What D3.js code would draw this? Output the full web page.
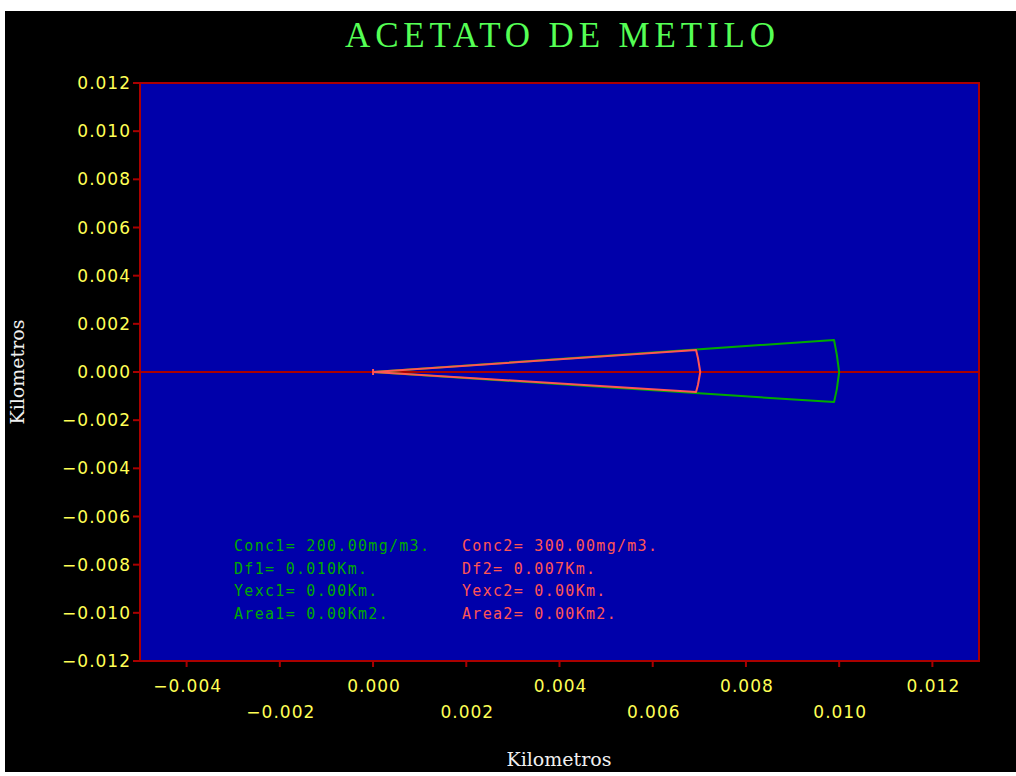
<!DOCTYPE html>
<html><head><meta charset="utf-8">
<script src="https://cdn.jsdelivr.net/npm/d3@7"></script>
<style>html,body{margin:0;padding:0;background:#fff;}svg{display:block;}</style>
</head><body>
<script>
// ---- data ----
const title = "ACETATO DE METILO";
const xLabel = "Kilometros";
const yLabel = "Kilometros";
const xTicks = [-0.004, -0.002, 0.000, 0.002, 0.004, 0.006, 0.008, 0.010, 0.012];
const yTicks = [0.012, 0.010, 0.008, 0.006, 0.004, 0.002, 0.000, -0.002, -0.004, -0.006, -0.008, -0.010, -0.012];
// plume outline 1 (Conc1, green): [x, y] in km
const plume1 = [[0, 0], [0.00989, 0.00133], [0.00995, 0.00071], [0.01000, 0.0], [0.00995, -0.00071], [0.00989, -0.00125], [0, 0]];
// plume outline 2 (Conc2, red)
const plume2 = [[0, 0], [0.00693, 0.00091], [0.00697, 0.00058], [0.00702, 0.0], [0.00697, -0.00054], [0.00693, -0.00083], [0, 0]];
const legend1 = ["Conc1= 200.00mg/m3.", "Df1= 0.010Km.", "Yexc1= 0.00Km.", "Area1= 0.00Km2."];
const legend2 = ["Conc2= 300.00mg/m3.", "Df2= 0.007Km.", "Yexc2= 0.00Km.", "Area2= 0.00Km2."];

// ---- drawing ----
const W = 1016, H = 776;
const plot = {left: 140, right: 979, top: 83, bottom: 661};
const svg = d3.select("body").append("svg").attr("width", W).attr("height", H);
svg.append("rect").attr("x", 0).attr("y", 0).attr("width", W).attr("height", H).attr("fill", "#ffffff");
svg.append("rect").attr("x", 5).attr("y", 11).attr("width", W - 5).attr("height", 761).attr("fill", "#000000");

const x = d3.scaleLinear().domain([-0.005, 0.013]).range([plot.left, plot.right]);
const y = d3.scaleLinear().domain([-0.012, 0.012]).range([plot.bottom, plot.top]);

const RED = "#aa0000", BLUE = "#0000aa", YEL = "#ffff55", GRN = "#00aa00", LRED = "#ff5555", LGRN = "#55ff55";

// plot background
svg.append("rect").attr("x", plot.left).attr("y", plot.top)
  .attr("width", plot.right - plot.left).attr("height", plot.bottom - plot.top)
  .attr("fill", BLUE);

// title
svg.append("text").attr("x", 345).attr("y", 47)
  .attr("textLength", 430).attr("lengthAdjust", "spacing")
  .attr("font-family", "Liberation Serif, DejaVu Serif, serif").attr("font-size", 35)
  .attr("fill", LGRN).text(title);

const fmt = d => d3.format(".3f")(d).replace("-", "\u2212");

// y ticks
const yg = svg.append("g");
yg.selectAll("line").data(yTicks).enter().append("line")
  .attr("x1", plot.left - 7).attr("x2", plot.left)
  .attr("y1", d => y(d)).attr("y2", d => y(d))
  .attr("stroke", RED).attr("stroke-width", 2);
yg.selectAll("text").data(yTicks).enter().append("text")
  .attr("x", 131).attr("y", d => y(d) + 6)
  .attr("text-anchor", "end")
  .attr("font-family", "DejaVu Sans, sans-serif").attr("font-size", 17)
  .attr("letter-spacing", 1)
  .attr("fill", YEL)
  .text(fmt);

// x ticks
const xg = svg.append("g");
xg.selectAll("line").data(xTicks).enter().append("line")
  .attr("x1", d => x(d)).attr("x2", d => x(d))
  .attr("y1", plot.bottom).attr("y2", plot.bottom + 6)
  .attr("stroke", RED).attr("stroke-width", 2);
xg.selectAll("text").data(xTicks).enter().append("text")
  .attr("x", d => x(d) + 1).attr("y", (d, i) => i % 2 === 0 ? 692 : 718)
  .attr("text-anchor", "middle")
  .attr("font-family", "DejaVu Sans, sans-serif").attr("font-size", 17)
  .attr("letter-spacing", 1)
  .attr("fill", YEL)
  .text(fmt);

// axis labels
svg.append("text").attr("x", 559).attr("y", 766).attr("text-anchor", "middle")
  .attr("font-family", "DejaVu Serif, serif").attr("font-size", 19)
  .attr("fill", "#f0f0f0").text(xLabel);
svg.append("text").attr("transform", "translate(24,372) rotate(-90)").attr("text-anchor", "middle")
  .attr("font-family", "DejaVu Serif, serif").attr("font-size", 19)
  .attr("fill", "#f0f0f0").text(yLabel);

// center line (y = 0)
svg.append("line").attr("x1", plot.left).attr("x2", plot.right)
  .attr("y1", y(0)).attr("y2", y(0)).attr("stroke", RED).attr("stroke-width", 2);

// plumes
const line = d3.line().x(d => x(d[0])).y(d => y(d[1]));
svg.append("path").attr("d", line(plume1)).attr("fill", "none")
  .attr("stroke", GRN).attr("stroke-width", 2).attr("stroke-linejoin", "round");
svg.append("path").attr("d", line(plume2)).attr("fill", "none")
  .attr("stroke", LRED).attr("stroke-width", 2).attr("stroke-linejoin", "round");
// source marker
svg.append("line").attr("x1", x(0)).attr("x2", x(0)).attr("y1", y(0) - 3).attr("y2", y(0) + 3)
  .attr("stroke", LRED).attr("stroke-width", 2);

// frame
svg.append("rect").attr("x", plot.left).attr("y", plot.top)
  .attr("width", plot.right - plot.left).attr("height", plot.bottom - plot.top)
  .attr("fill", "none").attr("stroke", RED).attr("stroke-width", 2);

// legend texts
const lg = svg.append("g").attr("font-family", "DejaVu Sans Mono, monospace").attr("font-size", 15).attr("letter-spacing", 1.3);
lg.selectAll("text.l1").data(legend1).enter().append("text").attr("class", "l1")
  .attr("x", 234).attr("y", (d, i) => 551 + i * 22.7).attr("fill", GRN).text(d => d);
lg.selectAll("text.l2").data(legend2).enter().append("text").attr("class", "l2")
  .attr("x", 462).attr("y", (d, i) => 551 + i * 22.7).attr("fill", LRED).text(d => d);
</script>
</body></html>
